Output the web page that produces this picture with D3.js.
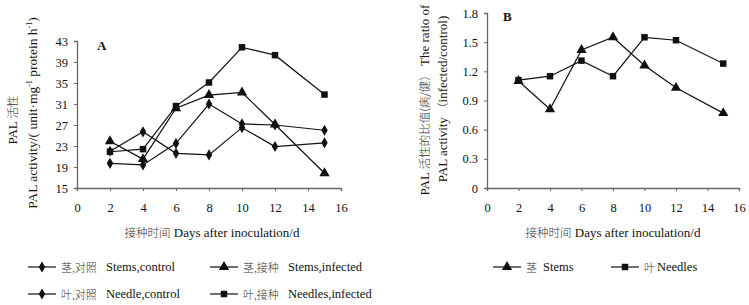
<!DOCTYPE html>
<html>
<head>
<meta charset="utf-8">
<script src="https://cdn.jsdelivr.net/npm/d3@7"></script>
<style>
  body { margin: 0; background: #fff; }
  text { font-family: "Liberation Serif", "Noto Sans CJK SC", serif; fill: #111; }
  .cn { font-family: "Noto Sans CJK SC", sans-serif; font-weight: 300; fill: #333; }
</style>
</head>
<body>
<div id="graph"></div>
<script>
const w = 749;
const h = 305;

// days after inoculation
const days = [2, 4, 6, 8, 10, 12, 15];

// panel A: PAL activity
const stemsControl   = [22.0, 25.7, 21.6, 21.3, 26.5, 22.9, 23.6];
const stemsInfected  = [23.9, 20.5, 30.2, 32.7, 33.2, 27.1, 17.8];
const needleControl  = [19.7, 19.4, 23.5, 31.0, 27.2, 27.0, 26.0];
const needleInfected = [21.9, 22.4, 30.6, 35.1, 41.8, 40.3, 32.8];

// panel B: ratio infected/control
const stemsRatio  = [1.10, 0.81, 1.42, 1.55, 1.26, 1.03, 0.77];
const needleRatio = [1.11, 1.15, 1.31, 1.15, 1.55, 1.52, 1.28];

const xTicks = [0, 2, 4, 6, 8, 10, 12, 14, 16];
const yTicksA = [15, 19, 23, 27, 31, 35, 39, 43];
const yTicksB = [0, 0.3, 0.6, 0.9, 1.2, 1.5, 1.8];

const svg = d3.select('#graph')
              .append('svg')
              .attr('width', w)
              .attr('height', h);

const sym = {
  diamond: d3.symbol().type(d3.symbolDiamond).size(36),
  triangle: d3.symbol().type(d3.symbolTriangle).size(46),
  square: d3.symbol().type(d3.symbolSquare).size(42)
};

function drawAxes(xScale, yScale, yTicks, fmt) {
  const xa = svg.append('g')
     .attr('transform', 'translate(0,' + yScale.range()[0] + ')')
     .call(d3.axisBottom(xScale).tickValues(xTicks).tickSize(3).tickPadding(12));
  const ya = svg.append('g')
     .attr('transform', 'translate(' + xScale.range()[0] + ',0)')
     .call(d3.axisLeft(yScale).tickValues(yTicks).tickSize(3).tickPadding(6).tickFormat(fmt));
  [xa, ya].forEach(function (g) {
    g.select('.domain').attr('stroke', '#666').attr('stroke-width', 1.3);
    g.selectAll('.tick line').attr('stroke', '#666');
    g.selectAll('.tick text').style('font-size', '12.5px').style('fill', '#111');
  });
}

function drawSeries(xScale, yScale, values, marker) {
  const pts = days.map((d, i) => [d, values[i]]);
  svg.append('path')
     .datum(pts)
     .attr('fill', 'none')
     .attr('stroke', '#111')
     .attr('stroke-width', 1.2)
     .attr('d', d3.line()
                  .x((d) => xScale(d[0]))
                  .y((d) => yScale(d[1])));
  svg.selectAll(null)
     .data(pts)
     .enter()
     .append('path')
     .attr('d', sym[marker])
     .attr('fill', '#111')
     .attr('transform', (d) => 'translate(' + xScale(d[0]) + ',' + yScale(d[1]) + ')');
}

// mixed chinese / latin label
function mixedText(sel, parts) {
  parts.forEach(function (p) {
    const t = sel.append('tspan').text(p[0]);
    if (p[1] === 'cn') t.attr('class', 'cn').style('font-size', '11.5px');
    if (p[1] === 'sup') t.attr('dy', -5).style('font-size', '8px');
    if (p[1] === 'down') t.attr('dy', 5);
  });
  return sel;
}

// Panel A
const xA = d3.scaleLinear().domain([0, 16]).range([77, 341]);
const yA = d3.scaleLinear().domain([15, 43]).range([188, 41]);
drawAxes(xA, yA, yTicksA, d3.format('d'));
drawSeries(xA, yA, stemsControl, 'diamond');
drawSeries(xA, yA, needleControl, 'diamond');
drawSeries(xA, yA, stemsInfected, 'triangle');
drawSeries(xA, yA, needleInfected, 'square');

svg.append('text')
   .attr('x', 97).attr('y', 50)
   .style('font-size', '13px').style('font-weight', 'bold')
   .text('A');

mixedText(svg.append('text')
   .attr('text-anchor', 'middle')
   .attr('transform', 'translate(17,120)rotate(-90)')
   .style('font-size', '13px'),
   [['PAL ', ''], ['活性', 'cn']]);

mixedText(svg.append('text')
   .attr('text-anchor', 'middle')
   .attr('transform', 'translate(37,113)rotate(-90)')
   .style('font-size', '13.5px'),
   [['PAL activity/( unit·mg', ''], ['-1', 'sup'], [' protein h', 'down'], ['-1', 'sup'], [')', 'down']]);

mixedText(svg.append('text')
   .attr('x', 212).attr('y', 237)
   .attr('text-anchor', 'middle')
   .style('font-size', '13px'),
   [['接种时间', 'cn'], [' Days after inoculation/d', '']]);

// Panel B
const xB = d3.scaleLinear().domain([0, 16]).range([487, 739]);
const yB = d3.scaleLinear().domain([0, 1.8]).range([188, 13]);
drawAxes(xB, yB, yTicksB, (d) => d === 0 ? '0' : d.toFixed(1));
drawSeries(xB, yB, needleRatio, 'square');
drawSeries(xB, yB, stemsRatio, 'triangle');

svg.append('text')
   .attr('x', 503).attr('y', 21)
   .style('font-size', '13px').style('font-weight', 'bold')
   .text('B');

mixedText(svg.append('text')
   .attr('text-anchor', 'middle')
   .attr('transform', 'translate(429,100)rotate(-90)')
   .style('font-size', '13px'),
   [['PAL ', ''], ['活性的比值(病/健）', 'cn'], ['  The ratio of', '']]);

mixedText(svg.append('text')
   .attr('text-anchor', 'middle')
   .attr('transform', 'translate(447,99)rotate(-90)')
   .style('font-size', '13px'),
   [['PAL activity  ', ''], ['（', 'cn'], ['infected/control)', '']]);

mixedText(svg.append('text')
   .attr('x', 613).attr('y', 237)
   .attr('text-anchor', 'middle')
   .style('font-size', '13px'),
   [['接种时间', 'cn'], [' Days after inoculation/d', '']]);

// Legends
const legendItems = [
  {x: 28, y: 267, marker: 'diamond', cn: '茎,对照', en: 'Stems,control', gap: 45},
  {x: 210, y: 267, marker: 'triangle', cn: '茎,接种', en: 'Stems,infected', gap: 45},
  {x: 28, y: 294, marker: 'diamond', cn: '叶,对照', en: 'Needle,control', gap: 45},
  {x: 210, y: 294, marker: 'square', cn: '叶,接种', en: 'Needles,infected', gap: 45},
  {x: 493, y: 267, marker: 'triangle', cn: '茎', en: 'Stems', gap: 17},
  {x: 611, y: 267, marker: 'square', cn: '叶', en: 'Needles', gap: 13}
];

legendItems.forEach(function (d) {
  svg.append('line')
     .attr('x1', d.x).attr('x2', d.x + 28)
     .attr('y1', d.y).attr('y2', d.y)
     .attr('stroke', '#111').attr('stroke-width', 1.2);
  svg.append('path')
     .attr('d', sym[d.marker])
     .attr('fill', '#111')
     .attr('transform', 'translate(' + (d.x + 14) + ',' + d.y + ')');
  svg.append('text')
     .attr('class', 'cn')
     .attr('x', d.x + 33).attr('y', d.y)
     .attr('dominant-baseline', 'central')
     .style('font-size', '11px')
     .text(d.cn);
  svg.append('text')
     .attr('x', d.x + 33 + d.gap).attr('y', d.y)
     .attr('dominant-baseline', 'central')
     .style('font-size', '12.5px')
     .text(d.en);
});
</script>
</body>
</html>
